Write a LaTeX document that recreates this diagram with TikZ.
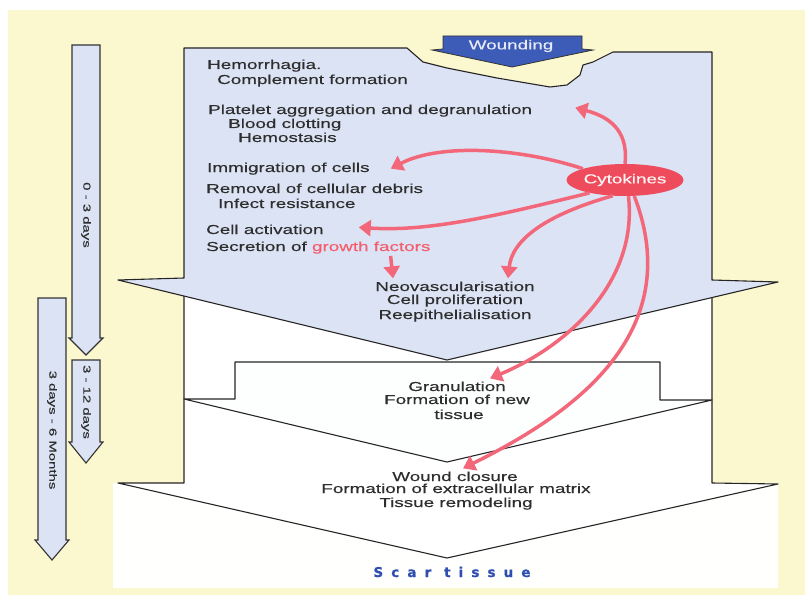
\documentclass[tikz,border=0pt]{standalone}
\usepackage{fontspec}
\usetikzlibrary{shapes,arrows.meta}
\newfontfamily\figfont[FakeStretch=1.45,FakeBold=0.35]{Liberation Sans}
\newfontfamily\scarfont[LetterSpace=60,FakeBold=0.8]{DejaVu Sans}
\definecolor{bgyellow}{HTML}{FBF7CF}
\definecolor{paleblue}{HTML}{DCE3F4}
\definecolor{woundblue}{HTML}{3C5CB8}
\definecolor{cytored}{HTML}{EE4C5C}
\definecolor{pinkline}{HTML}{F2687A}
\definecolor{textgray}{HTML}{2E2E2E}
\definecolor{scarblue}{HTML}{2E4FB0}

\begin{document}
\begin{tikzpicture}[x=1pt, y=-1pt,
    phase_main/.style ={draw=black!85, line width=1.1pt, fill=paleblue, line join=round},
    phase_light/.style ={draw=black!85, line width=1.1pt, fill=white!95!paleblue, line join=round},
    time_arrow/.style ={draw=black!80, line width=1.1pt, fill=paleblue},
    block_text/.style ={anchor=base west, inner sep=0pt, text=textgray,
      font=\figfont\fontsize{13}{15}\selectfont},
    block_center/.style ={block_text, anchor=base},
    time_label/.style ={rotate=-90, inner sep=0pt, text=textgray,
      font=\figfont\fontsize{10.3}{12}\selectfont},
    cloud/.style ={ellipse, fill=cytored, minimum width=104pt, minimum height=32pt,
      inner sep=0pt, text=white!85!pink, font=\figfont\fontsize{13}{15}\selectfont},
    line/.style ={draw=pinkline, line width=3.5pt, -{Triangle[length=12pt,width=16pt]}}]

    % background
    \useasboundingbox (0,0) rectangle (809,602);
    \fill[white] (0,0) rectangle (809,602);
    \fill[bgyellow] (8,10) rectangle (805,595);
    \fill[white!98!bgyellow] (113,483) rectangle (778,588);

    % time axis
    \draw[time_arrow] (72,45) -- (100,45) -- (100,338) -- (103,338) -- (86,355) -- (69,338) -- (72,338) -- cycle;
    \draw[time_arrow] (72,360) -- (100,360) -- (100,442) -- (103,442) -- (86,463) -- (69,442) -- (72,442) -- cycle;
    \draw[time_arrow] (38,298) -- (66,298) -- (66,540) -- (69,540) -- (52,560) -- (35,540) -- (38,540) -- cycle;
    \node[time_label] (days03) at (86,215) {0 - 3 days};
    \node[time_label] (days312) at (86,402) {3 - 12 days};
    \node[time_label] (days36m) at (52,430) {3 days - 6 Months};

    % healing phases, back to front
    \draw[phase_light, fill=white] (184,285) -- (712,285) -- (712,483) -- (778,484) -- (447,558) -- (118,483) -- (184,483) -- cycle;
    \draw[phase_light] (235,362) -- (660,362) -- (660,400) -- (712,400) -- (447,462) -- (184,399) -- (235,399) -- cycle;
    \draw[phase_main] (184,48) -- (407,48) -- (423,62) -- (447,68) -- (497,78) -- (550,87) -- (567,85)
      -- (580,75) -- (583,65) -- (593,62) -- (613,52) -- (712,52) -- (712,280) -- (778,282)
      -- (447,360) -- (118,280) -- (184,278) -- cycle;

    % wounding
    \draw[fill=woundblue, draw=black!80, line width=0.8pt] (443,36) -- (582,36) -- (582,49) -- (593,50)
      -- (512,67) -- (432,50) -- (443,49) -- cycle;
    \node[block_center, anchor=center, text=white!88!woundblue] (wound) at (511,46) {Wounding};

    % Place nodes
    \node[block_text] (hem) at (207,69) {Hemorrhagia.};
    \node[block_text] (compl) at (217,84) {Complement formation};
    \node[block_text] (plat) at (208,114) {Platelet aggregation and degranulation};
    \node[block_text] (blood) at (228,128) {Blood clotting};
    \node[block_text] (hemost) at (238,142) {Hemostasis};
    \node[block_text] (immig) at (207,172) {Immigration of cells};
    \node[block_text] (removal) at (206,193) {Removal of cellular debris};
    \node[block_text] (infect) at (218,208) {Infect resistance};
    \node[block_text] (cellact) at (206,234) {Cell activation};
    \node[block_text] (secr) at (206,251) {Secretion of \textcolor{pinkline!90!red}{growth factors}};
    \node[block_center] (neo) at (455,291) {Neovascularisation};
    \node[block_center] (prolif) at (455,304) {Cell proliferation};
    \node[block_center] (reepi) at (455,319) {Reepithelialisation};
    \node[block_center] (gran) at (457,391) {Granulation};
    \node[block_center] (formnew) at (457,404) {Formation of new};
    \node[block_center] (tissue) at (459,419) {tissue};
    \node[block_center] (closure) at (455,481) {Wound closure};
    \node[block_center] (matrix) at (456,493) {Formation of extracellular matrix};
    \node[block_center] (remodel) at (456,507) {Tissue remodeling};
    \node[block_center, font=\scarfont\bfseries\fontsize{13.5}{15}\selectfont, text=scarblue] (scar) at (452,577) {Scar tissue};

    \node[cloud] (cyto) at (625,180) {Cytokines};

    % Drawing paths from the cytokines
    \path[line] (cyto.north) .. controls (629,128) and (606,116) .. ([xshift=43pt,yshift=3pt]plat.east);
    \path[line] (cyto.165) .. controls (520,148) and (440,143) .. ([xshift=21pt]immig.east);
    \path[line] (cyto.200) .. controls (500,215) and (430,232) .. ([xshift=35pt,yshift=2pt]cellact.east);
    \path[line] (cyto.232) .. controls (545,215) and (512,240) .. ([xshift=53pt,yshift=3pt]neo.north);
    \path[line] ([xshift=-40pt,yshift=-2pt]secr.south east) -- ([xshift=-62pt,yshift=3pt]neo.north);
    \path[line] (cyto.282) .. controls (638,280) and (570,345) .. ([xshift=33pt,yshift=3pt]gran.north);
    \path[line] (cyto.300) .. controls (690,340) and (560,420) .. ([xshift=8pt,yshift=3pt]closure.north);

  \end{tikzpicture}
\end{document}
